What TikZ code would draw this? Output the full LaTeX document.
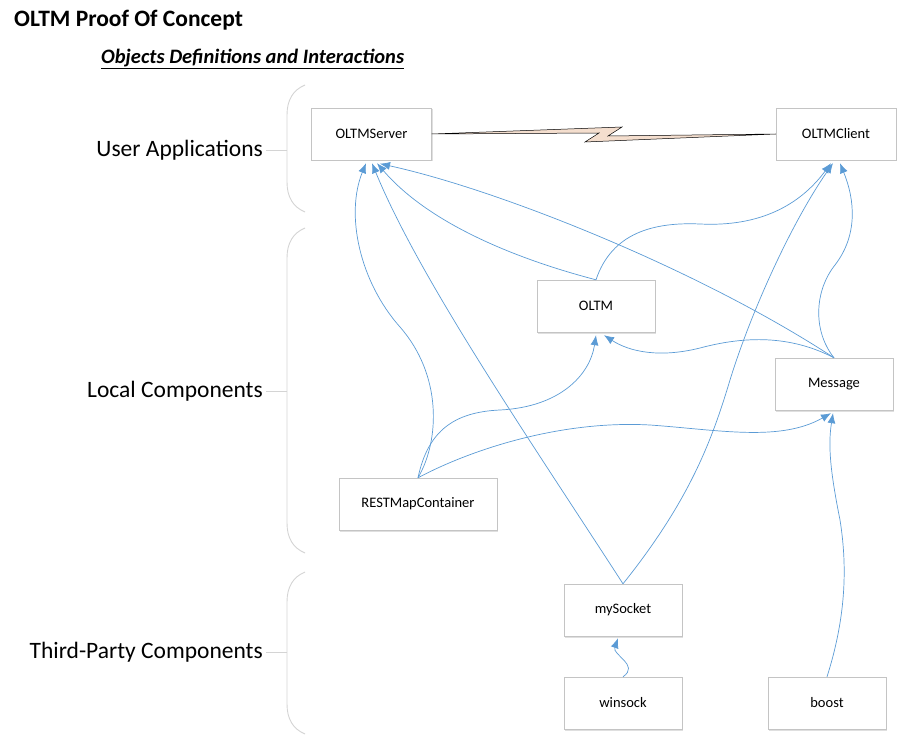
\documentclass[tikz,border=0pt]{standalone}
\usepackage{fontspec}
\setmainfont{Carlito}
\usepackage{tikz}
\usetikzlibrary{arrows.meta,shadows}
\definecolor{linkblue}{RGB}{91,155,213}
\definecolor{boxgray}{RGB}{196,196,196}
\definecolor{bracegray}{RGB}{212,212,212}
\definecolor{boltfill}{RGB}{244,222,206}
\newcommand{\groupbrace}[3]{
	\draw[bracegray, line width=0.9pt] (305,#1) .. controls (293,#1+5) and (287,#1+15) .. (287,#1+30)
		-- (287,#2-30) .. controls (287,#2-15) and (293,#2-5) .. (305,#2);
	\draw[bracegray, line width=0.9pt] (287,#3) -- (266,#3);
}

\begin{document}
\begin{tikzpicture}[x=1pt,y=-1pt,
	box/.style={draw=boxgray, fill=white, minimum width=118pt, minimum height=52pt, inner sep=0pt,
		font=\fontsize{14.5}{17}\selectfont,
		drop shadow={shadow xshift=1.2pt, shadow yshift=-1.5pt, opacity=0.25, fill=gray}},
	link/.style={linkblue, line width=0.7pt, -{Latex[length=10pt,width=8pt]}},
	grouplabel/.style={anchor=east, inner sep=0pt, font=\fontsize{23.5}{28}\selectfont}]
	\useasboundingbox (0,0) rectangle (900,738);

	\node[anchor=west, inner sep=0pt, font=\fontsize{23.5}{28}\selectfont\bfseries] (title) at (14,20) {OLTM Proof Of Concept};
	\node[anchor=west, inner sep=0pt, font=\fontsize{20.5}{24}\selectfont\bfseries\itshape] (subtitle) at (101,59) {\underline{Objects Definitions and Interactions}};

	\groupbrace{85}{212}{150}
	\groupbrace{228}{553}{391}
	\groupbrace{572}{734}{652}
	\node[grouplabel] (userapps) at (263,150) {User Applications};
	\node[grouplabel] (localcomp) at (263,391) {Local Components};
	\node[grouplabel] (thirdparty) at (263,652) {Third-Party Components};

	\node[box, minimum width=120pt] (server) at (371.5,134) {OLTMServer};
	\node[box, minimum width=120pt] (client) at (836,134) {OLTMClient};
	\node[box] (oltm) at (596,306) {OLTM};
	\node[box] (message) at (834,384) {Message};
	\node[box, minimum width=158pt] (restmap) at (418,504) {RESTMapContainer};
	\node[box] (mysocket) at (623,610) {mySocket};
	\node[box] (winsock) at (623,703) {winsock};
	\node[box] (boost) at (827,703) {boost};

	% link between the two applications
	\draw[black, line width=0.5pt, fill=boltfill] (server.east) -- (622,127) -- (608,136)
		-- (client.west) -- (585,142) -- (599,133) -- cycle;

	% into OLTMServer
	\draw[link] (restmap.north) .. controls (440,440) and (442,375) .. (400,327)
		.. controls (360,282) and (345,215) .. ([xshift=-5.5pt,yshift=-3pt]server.south);
	\draw[link] (mysocket.north) .. controls (530,440) and (420,280) .. ([xshift=0.5pt,yshift=-3pt]server.south);
	\draw[link] (oltm.north) .. controls (520,260) and (430,225) .. ([xshift=5.5pt,yshift=-3pt]server.south);
	\draw[link] (message.north) .. controls (700,270) and (500,190) .. ([xshift=8.5pt,yshift=-3.5pt]server.south);

	% into OLTMClient
	\draw[link] (oltm.north) .. controls (612,232) and (655,222) .. (700,224)
		.. controls (760,227) and (800,205) .. ([xshift=-5pt,yshift=-3pt]client.south);
	\draw[link] (mysocket.north) .. controls (690,500) and (712,440) .. (730,380)
		.. controls (750,315) and (790,225) .. ([xshift=-3pt,yshift=-3pt]client.south);
	\draw[link] (message.north) .. controls (812,330) and (815,290) .. (835,265)
		.. controls (858,235) and (855,200) .. ([xshift=4pt,yshift=-3pt]client.south);

	% into OLTM
	\draw[link] (restmap.north) .. controls (428,430) and (455,412) .. (500,410)
		.. controls (560,407) and (590,375) .. ([yshift=-3pt]oltm.south);
	\draw[link] (message.north) .. controls (790,335) and (745,336) .. (700,348)
		.. controls (660,358) and (630,352) .. ([xshift=8pt,yshift=-3pt]oltm.south);

	% into Message
	\draw[link] (restmap.north) .. controls (470,450) and (560,420) .. (650,425)
		.. controls (720,430) and (780,442) .. ([xshift=-3pt,yshift=-3pt]message.south);
	\draw[link] (boost.north) .. controls (845,620) and (848,570) .. (840,520)
		.. controls (830,470) and (828,445) .. ([xshift=-1pt,yshift=-3pt]message.south);

	% into mySocket
	\draw[link] (winsock.north) .. controls (640,665) and (612,655) .. ([xshift=-5pt,yshift=-2pt]mysocket.south);
\end{tikzpicture}
\end{document}
